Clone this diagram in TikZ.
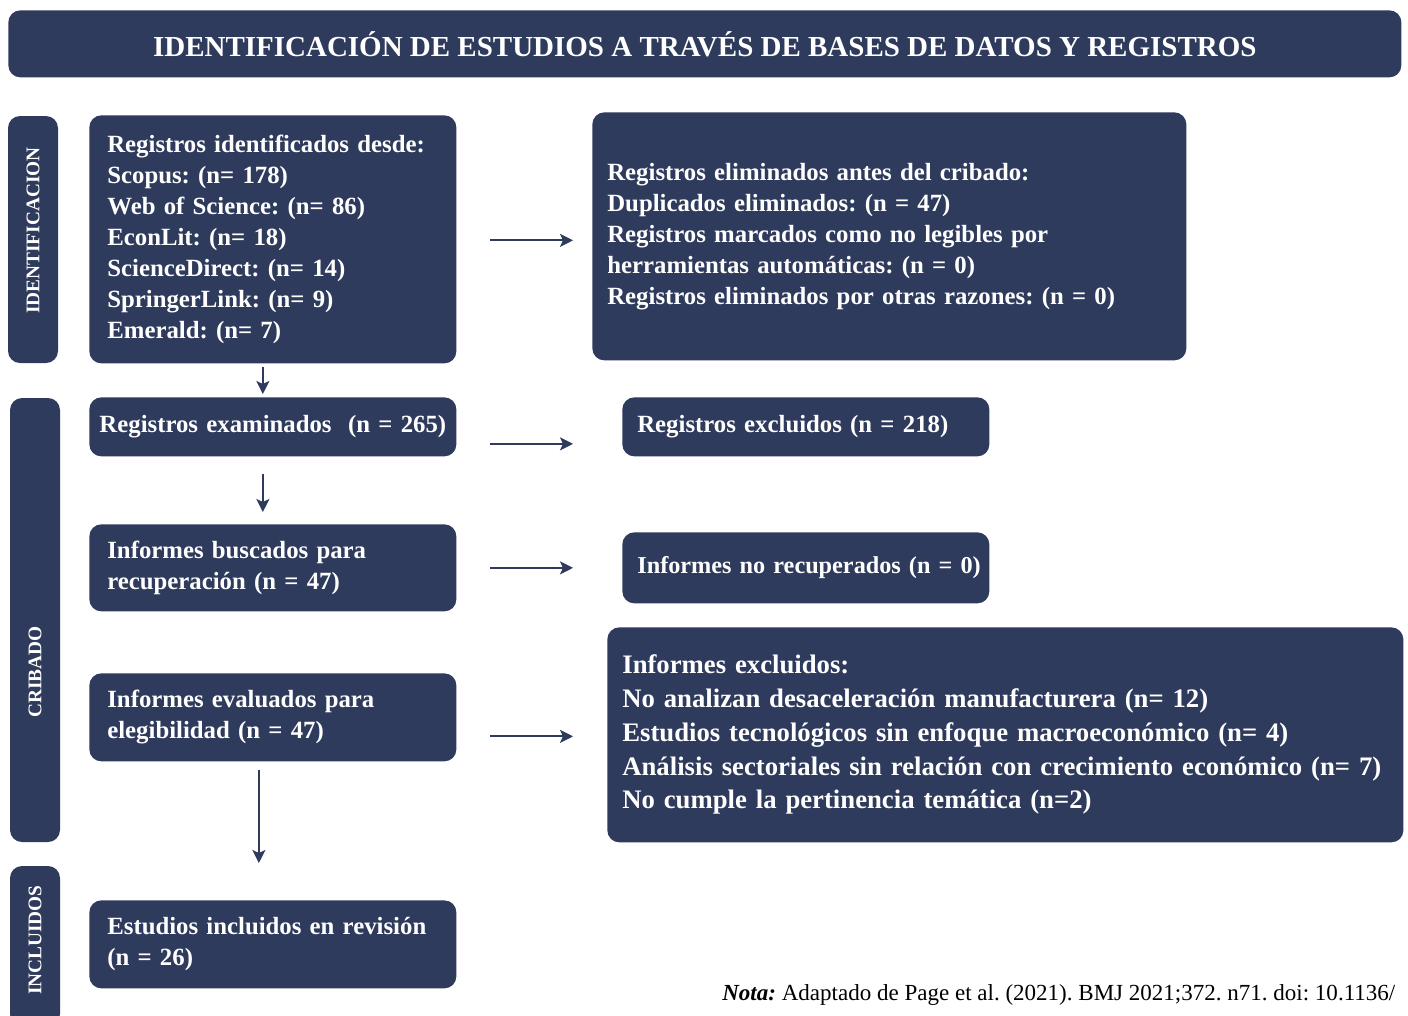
\documentclass[tikz,border=0pt]{standalone}
\usepackage{fontspec}
\setmainfont{Liberation Serif}
\usetikzlibrary{arrows.meta,calc}
\definecolor{azul}{RGB}{47,59,92}
\newdimen\pxu
\pxu=0.02cm
\frenchspacing

\begin{document}
\begin{tikzpicture}[x=0.02cm, y=-0.02cm,
  caja/.style={fill=azul, rounded corners=12\pxu, text=white, font=\bfseries\fontsize{14.1}{17.6}\selectfont, align=left, anchor=north west, inner ysep=0pt},
  lateral/.style={fill=azul, rounded corners=12\pxu, minimum height=50\pxu, inner sep=0pt, rotate=90},
  etapa/.style={text=white, font=\bfseries\fontsize{11}{12}\selectfont, rotate=90, inner sep=0pt},
  flecha/.style={-{Stealth[length=7.4pt, width=7.4pt, inset=1.7pt]}, line width=1.1pt, draw=azul}]
\useasboundingbox (0,0) rectangle (1408,1015);

% encabezado
\node[fill=azul, rounded corners=12\pxu, text=white, minimum width=1393\pxu, minimum height=67\pxu, anchor=north west, font=\bfseries\fontsize{16.5}{18}\selectfont] (titulo) at (8,10) {IDENTIFICACIÓN DE ESTUDIOS A TRAVÉS DE BASES DE DATOS Y REGISTROS};

% etapas laterales
\node[lateral, minimum width=247\pxu] (fase1) at (33,239.5) {};
\node[etapa] (fase1t) at (33,230.5) {IDENTIFICACION};
\node[lateral, minimum width=444\pxu] (fase2) at (35,620) {};
\node[etapa] (fase2t) at (35,672) {CRIBADO};
\node[lateral, minimum width=160\pxu] (fase3) at (35,946) {};
\node[etapa] (fase3t) at (35,940) {INCLUIDOS};

% columna izquierda
\node[caja, minimum height=248\pxu, text width=331\pxu, inner xsep=18\pxu] (ident) at (89,115) {Registros identificados desde:\\
Scopus: (n= 178)\\
Web of Science: (n= 86)\\
EconLit: (n= 18)\\
ScienceDirect: (n= 14)\\
SpringerLink: (n= 9)\\
Emerald: (n= 7)};
\node[caja, minimum height=59\pxu, text width=359\pxu, inner xsep=4\pxu, align=center] (exam) at (89,397) {Registros examinados\ \ (n = 265)};
\node[caja, minimum height=87\pxu, text width=331\pxu, inner xsep=18\pxu] (busc) at (89,524) {Informes buscados para\\ recuperación (n = 47)};
\node[caja, minimum height=88\pxu, text width=331\pxu, inner xsep=18\pxu] (eval) at (89,673) {Informes evaluados para\\ elegibilidad (n = 47)};
\node[caja, minimum height=88\pxu, text width=331\pxu, inner xsep=18\pxu] (incl) at (89,900) {Estudios incluidos en revisión\\ (n = 26)};

% columna derecha
\node[caja, minimum height=248\pxu, text width=564\pxu, inner xsep=15\pxu] (elim) at (592,112) {Registros eliminados antes del cribado:\\
Duplicados eliminados: (n = 47)\\
Registros marcados como no legibles por\\
herramientas automáticas: (n = 0)\\
Registros eliminados por otras razones: (n = 0)};
\node[caja, minimum height=59\pxu, text width=359\pxu, inner xsep=4\pxu] (excl) at (622,397) {\hspace*{11\pxu}\mbox{Registros excluidos (n = 218)}};
\node[caja, minimum height=71\pxu, text width=359\pxu, inner xsep=4\pxu, font=\bfseries\fontsize{13.8}{17.6}\selectfont] (norec) at (622,532) {\hspace*{11\pxu}\mbox{Informes no recuperados (n = 0)}};
\node[caja, minimum height=215\pxu, text width=766\pxu, inner xsep=15\pxu, font=\bfseries\fontsize{15.2}{19.2}\selectfont] (inex) at (607,627) {Informes excluidos:\\
No analizan desaceleración manufacturera (n= 12)\\
Estudios tecnológicos sin enfoque macroeconómico (n= 4)\\
Análisis sectoriales sin relación con crecimiento económico (n= 7)\\
No cumple la pertinencia temática (n=2)};

% flechas horizontales
\draw[flecha] ($(ident.east)+(33,1)$) -- ($(ident.east -| elim.west)+(-19,1)$);
\draw[flecha] ($(exam.east)+(33,17)$) -- ($(exam.east -| excl.west)+(-49,17)$);
\draw[flecha] ($(busc.east)+(33,0)$) -- ($(busc.east -| norec.west)+(-49,0)$);
\draw[flecha] ($(eval.east)+(33,19)$) -- ($(eval.east -| inex.west)+(-34,19)$);

% flechas verticales
\draw[flecha] ($(ident.south)+(-10,3)$) -- ($(exam.north)+(-10,-3)$);
\draw[flecha] ($(exam.south)+(-10,17)$) -- ($(busc.north)+(-10,-12)$);
\draw[flecha] ($(eval.south)+(-14,8)$) -- ($(incl.north)+(-14,-37)$);

% nota
\node[anchor=base west, inner sep=0pt, font=\fontsize{13.1}{15}\selectfont] (nota) at (722,1000) {\textbf{\textit{Nota:}} Adaptado de Page et al. (2021). BMJ 2021;372. n71. doi: 10.1136/};
\end{tikzpicture}
\end{document}
